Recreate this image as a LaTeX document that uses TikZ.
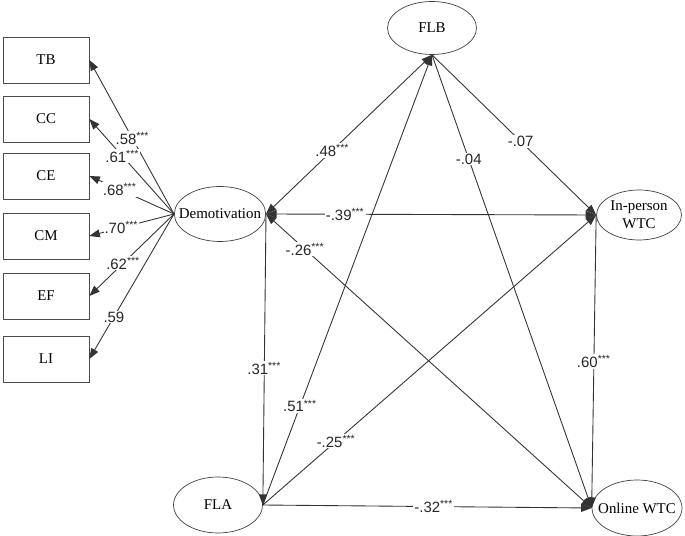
\documentclass[tikz,border=0pt]{standalone}
\usepackage{fontspec}
\setmainfont{Liberation Serif}
\newfontfamily\labfont{Liberation Sans}
\usetikzlibrary{shapes.geometric,arrows.meta}

\newcommand{\sig}[1]{#1\textsuperscript{***}}

\begin{document}
\begin{tikzpicture}[
  x=0.02cm, y=-0.02cm,
  font=\fontsize{8.5}{10}\selectfont,
  ind/.style={draw,black!70,text=black,minimum width=1.72cm,minimum height=0.92cm,
    inner sep=0pt},
  lat/.style={draw,black!75,text=black,ellipse,minimum width=1.78cm,
    minimum height=1.1cm,inner xsep=-5pt,inner ysep=-2pt,align=center},
  path/.style={draw,black!80,line width=0.5pt,-{Triangle[length=6pt,width=4.5pt]}},
  both/.style={path,{Triangle[length=6pt,width=4.5pt]}-{Triangle[length=6pt,width=4.5pt]}},
  lab/.style={fill=white,inner sep=0.6pt,text=black!85,
    font=\labfont\fontsize{8.5}{9}\selectfont}]
\useasboundingbox (0,0) rectangle (685,536);

% indicators
\foreach \nm/\txt/\yy in {tb/TB/60, cc/CC/119, ce/CE/176, cm/CM/236, ef/EF/296, li/LI/359}
  \node[ind] (\nm) at (46,\yy) {\txt};

% latent variables
\node[lat] (dem) at (220,214) {Demotivation};
\node[lat,minimum height=1.06cm] (flb) at (432,28) {FLB};
\node[lat,minimum width=1.7cm,minimum height=1.0cm] (inwtc) at (639,215) {In-person\\WTC};
\node[lat,minimum height=1.12cm] (fla) at (218,505) {FLA};
\node[lat,minimum width=1.8cm,minimum height=1.12cm] (onwtc) at (637,508) {Online WTC};

% loadings
\draw[path] (dem.west) -- node[lab,pos=.49] {\sig{.58}} (tb.east);
\draw[path] (dem.west) -- node[lab,pos=.61] {\sig{.61}} (cc.east);
\draw[path] (dem.west) -- node[lab,pos=.64] {\sig{.68}} (ce.east);
\draw[path] (dem.west) -- node[lab,pos=.62] {\sig{.70}} (cm.east);
\draw[path] (dem.west) -- node[lab,pos=.6] {\sig{.62}} (ef.east);
\draw[path] (dem.west) -- node[lab,pos=.71] {.59} (li.east);

% structural paths
\draw[both] (dem.east) -- node[lab,pos=.4] {\sig{.48}} (flb.south);
\draw[both] (dem.east) -- node[lab,pos=.24] {\sig{-.39}} (inwtc.west);
\draw[both] (dem.east) -- node[lab,pos=.12] {\sig{-.26}} (onwtc.west);
\draw[path] (dem.east) -- node[lab,pos=.53] {\sig{.31}} (fla.east);
\draw[path] (fla.east) -- node[lab,pos=.22] {\sig{.51}} (flb.south);
\draw[path] (fla.east) -- node[lab,pos=.22] {\sig{-.25}} (inwtc.west);
\draw[path] (fla.east) -- node[lab,pos=.52] {\sig{-.32}} (onwtc.west);
\draw[path] (flb.south) -- node[lab,pos=.54] {-.07} (inwtc.west);
\draw[path] (flb.south) -- node[lab,pos=.23] {-.04} (onwtc.west);
\draw[path] (inwtc.west) -- node[lab,pos=.5] {\sig{.60}} (onwtc.west);
\end{tikzpicture}
\end{document}
